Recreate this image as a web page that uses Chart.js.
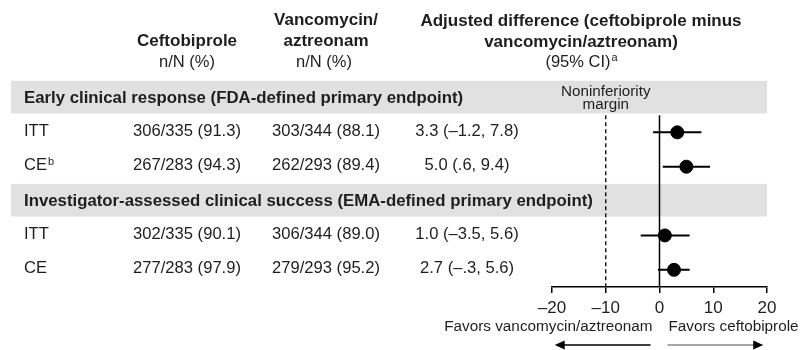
<!DOCTYPE html>
<html>
<head>
<meta charset="utf-8">
<script src="https://cdn.jsdelivr.net/npm/chart.js"></script>
<style>
  body { margin: 0; background: #fff; }
  #forest { display: block; }
</style>
</head>
<body>
<canvas id="forest" width="806" height="350"></canvas>
<script>
// Table values and forest plot values
const groupTitles = ['Early clinical response (FDA-defined primary endpoint)', 'Investigator-assessed clinical success (EMA-defined primary endpoint)'];
const groupRows = [0, 3];
const populations = ['ITT', 'CE', 'ITT', 'CE'];
const popNotes = ['', 'b', '', ''];
const dataRows = [1, 2, 4, 5];
const ceftobiprole = ['306/335 (91.3)', '267/283 (94.3)', '302/335 (90.1)', '277/283 (97.9)'];
const vancomycin = ['303/344 (88.1)', '262/293 (89.4)', '306/344 (89.0)', '279/293 (95.2)'];
const diffText = ['3.3 (–1.2, 7.8)', '5.0 (.6, 9.4)', '1.0 (–3.5, 5.6)', '2.7 (–.3, 5.6)'];
const diff = [3.3, 5.0, 1.0, 2.7];
const ciLow = [-1.2, 0.6, -3.5, -0.3];
const ciHigh = [7.8, 9.4, 5.6, 5.6];
const xTicks = [-20, -10, 0, 10, 20];
const marginValue = -10;

const FONT = '"Liberation Sans", Arial, sans-serif';
const INK = '#1e1e1e';

function txt(ctx, s, x, y, size, weight, align) {
    ctx.font = (weight || 'normal') + ' ' + size + 'px ' + FONT;
    ctx.textAlign = align || 'left';
    ctx.fillText(s, x, y);
    return ctx.measureText(s).width;
}

function arrow(ctx, x1, x2, y, lineColor) {
    const dir = x2 > x1 ? 1 : -1;
    ctx.strokeStyle = lineColor;
    ctx.lineWidth = 1.5;
    ctx.beginPath();
    ctx.moveTo(x1, y);
    ctx.lineTo(x2 - dir * 8, y);
    ctx.stroke();
    ctx.fillStyle = '#000';
    ctx.beginPath();
    ctx.moveTo(x2, y);
    ctx.lineTo(x2 - dir * 10, y - 4.5);
    ctx.lineTo(x2 - dir * 10, y + 4.5);
    ctx.closePath();
    ctx.fill();
}

// gray group bands go under the lines
const bandsPlugin = {
    id: 'bands',
    beforeDatasetsDraw(chart) {
        const ctx = chart.ctx, ys = chart.scales.y;
        ctx.save();
        ctx.fillStyle = '#e1e1e1';
        groupRows.forEach(r => {
            const top = ys.getPixelForValue(r - 0.5);
            const bot = ys.getPixelForValue(r + 0.45);
            ctx.fillRect(11, top, chart.chartArea.right - 11, bot - top);
        });
        ctx.restore();
    }
};

// table text, headers and the favors labels
const tablePlugin = {
    id: 'table',
    afterDraw(chart) {
        const ctx = chart.ctx, xs = chart.scales.x, ys = chart.scales.y;
        ctx.save();
        ctx.fillStyle = INK;
        ctx.textBaseline = 'middle';

        // column headers
        txt(ctx, 'Ceftobiprole', 187, 41, 17, 'bold', 'center');
        txt(ctx, 'n/N (%)', 187, 62, 16.5, 'normal', 'center');
        txt(ctx, 'Vancomycin/', 326, 20, 17, 'bold', 'center');
        txt(ctx, 'aztreonam', 326, 41, 17, 'bold', 'center');
        txt(ctx, 'n/N (%)', 324, 62, 16.5, 'normal', 'center');
        txt(ctx, 'Adjusted difference (ceftobiprole minus', 581, 21, 17, 'bold', 'center');
        txt(ctx, 'vancomycin/aztreonam)', 581, 42, 17, 'bold', 'center');
        ctx.font = '16.5px ' + FONT;
        const ciW = ctx.measureText('(95% CI)').width;
        txt(ctx, '(95% CI)', 578 - ciW / 2, 62, 16.5, 'normal', 'left');
        txt(ctx, 'a', 578 + ciW / 2 + 1, 58, 11, 'normal', 'left');

        groupRows.forEach((r, i) => {
            txt(ctx, groupTitles[i], 24, ys.getPixelForValue(r), 16.8, 'bold', 'left');
        });

        dataRows.forEach((r, i) => {
            const y = ys.getPixelForValue(r) - 1;
            const w = txt(ctx, populations[i], 24, y, 16.6, 'normal', 'left');
            if (popNotes[i]) txt(ctx, popNotes[i], 24 + w + 1, y - 4, 11, 'normal', 'left');
            txt(ctx, ceftobiprole[i], 187, y, 16.6, 'normal', 'center');
            txt(ctx, vancomycin[i], 326, y, 16.6, 'normal', 'center');
            txt(ctx, diffText[i], 467, y, 16.6, 'normal', 'center');
        });

        // noninferiority margin label
        const mx = xs.getPixelForValue(marginValue);
        txt(ctx, 'Noninferiority', mx, 92, 15.2, 'normal', 'center');
        txt(ctx, 'margin', mx, 105, 15.2, 'normal', 'center');

        // favors labels and arrows under the axis
        const zx = xs.getPixelForValue(0);
        txt(ctx, 'Favors vancomycin/aztreonam', zx - 7, 327, 15.3, 'normal', 'right');
        txt(ctx, 'Favors ceftobiprole', zx + 9, 327, 15.3, 'normal', 'left');
        arrow(ctx, zx - 9, xs.getPixelForValue(-19.5), 345, '#000');
        arrow(ctx, zx + 8, xs.getPixelForValue(19.3), 345, '#8a8a8a');
        ctx.restore();
    }
};

function lineSet(points, width, dash) {
    return {
        type: 'line',
        data: points,
        borderColor: '#000',
        borderWidth: width,
        borderDash: dash || [],
        pointRadius: 0,
        fill: false,
        showLine: true,
        clip: false,
    };
}

const datasets = [{
    type: 'scatter',
    data: diff.map((d, i) => ({ x: d, y: dataRows[i] })),
    backgroundColor: '#000',
    borderColor: '#000',
    pointRadius: 6.5,
    pointHoverRadius: 6.5,
    clip: false,
}];
diff.forEach((d, i) => {
    datasets.push(lineSet([{ x: ciLow[i], y: dataRows[i] }, { x: ciHigh[i], y: dataRows[i] }], 2));
});
datasets.push(lineSet([{ x: 0, y: 0.5 }, { x: 0, y: 5.5 }], 1.5));
datasets.push(lineSet([{ x: marginValue, y: 0.5 }, { x: marginValue, y: 5.5 }], 1.3, [4, 3]));

new Chart(document.getElementById('forest').getContext('2d'), {
    type: 'scatter',
    data: { datasets: datasets },
    options: {
        responsive: false,
        animation: false,
        devicePixelRatio: 1,
        layout: { padding: { left: 552, right: 39, top: 80.8, bottom: 0 } },
        plugins: { legend: { display: false }, tooltip: { enabled: false } },
        scales: {
            x: {
                type: 'linear',
                min: -20,
                max: 20,
                afterBuildTicks: (scale) => { scale.ticks = xTicks.map(v => ({ value: v })); },
                afterFit: (scale) => { scale.height = 63; },
                grid: { drawOnChartArea: false, drawTicks: true, tickLength: 6, color: '#000', lineWidth: 1.5 },
                border: { display: true, color: '#000', width: 1.5 },
                ticks: {
                    color: INK,
                    padding: 5,
                    font: { size: 17, family: FONT },
                    callback: (v) => v < 0 ? '–' + Math.abs(v) : String(v),
                },
            },
            y: { type: 'linear', min: -0.5, max: 5.5, reverse: true, display: false },
        },
    },
    plugins: [bandsPlugin, tablePlugin],
});
</script>
</body>
</html>
